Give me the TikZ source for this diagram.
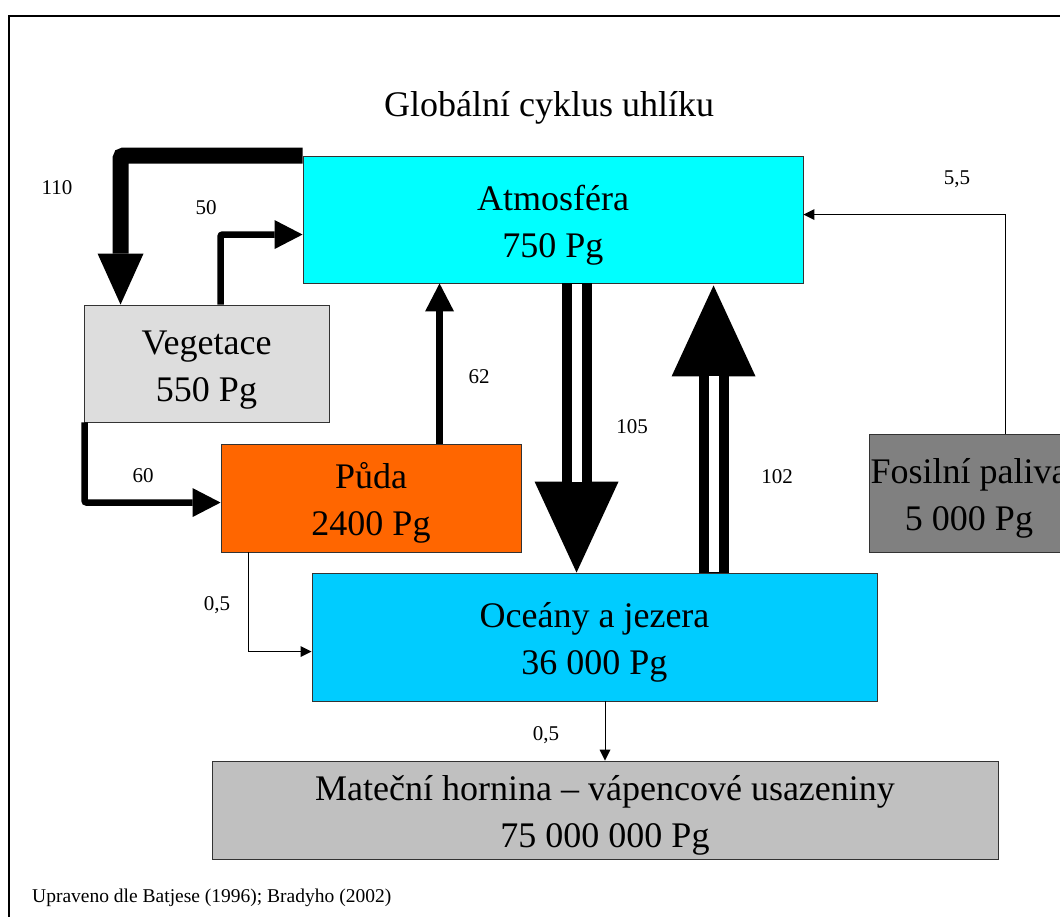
\documentclass[tikz,border=0pt]{standalone}
\usepackage{fontspec}
\setmainfont{Liberation Serif}
\usetikzlibrary{arrows.meta, positioning, calc}

\definecolor{atmocyan}{RGB}{0, 255, 255}
\definecolor{oceanblue}{RGB}{0, 204, 255}
\definecolor{soilorange}{RGB}{255, 102, 0}
\definecolor{vegegray}{RGB}{221, 221, 221}
\definecolor{fossilgray}{RGB}{128, 128, 128}
\definecolor{rockgray}{RGB}{192, 192, 192}

\tikzset{
  pool/.style={draw=black!80, line width=0.9pt, align=center, inner sep=0pt,
    font=\fontsize{36}{47}\selectfont, text height=80pt, text depth=4.6pt},
  flowlbl/.style={anchor=base, inner sep=0pt, font=\fontsize{21}{24}\selectfont},
  flowfat/.style={line width=16pt, rounded corners=3pt,
    -{Triangle[length=51pt, width=46pt, line width=0pt]}},
  flowmid/.style={line width=6.5pt, rounded corners=2pt,
    -{Triangle[length=28pt, width=29pt, line width=0pt]}},
  flowthin/.style={line width=1pt, -{Triangle[length=11pt, width=11pt, line width=0pt]}},
  flowdouble/.style={line width=30pt, -{Triangle[length=91pt, width=84pt, line width=0pt]}},
  flowgap/.style={white, line width=10pt, shorten <=1pt},
}

\begin{document}
\begin{tikzpicture}[x=1pt, y=-1pt]
  \useasboundingbox (0,0) rectangle (1060,916);
  \clip (0,0) rectangle (1060,916);
  % frame, it runs off the right and bottom edge
  \draw[line width=1.5pt] (9,930) -- (9,16) -- (1080,16);

  \node[anchor=base, inner sep=0pt, font=\fontsize{36}{40}\selectfont] (title) at (549,116) {Globální cyklus uhlíku};

  % carbon pools
  \node[pool, fill=atmocyan, minimum width=500pt, minimum height=127pt] (atm) at (553,219.5) {Atmosféra\\750 Pg};
  \node[pool, fill=vegegray, minimum width=245pt, minimum height=117pt] (veg) at (206.5,363.5) {Vegetace\\550 Pg};
  \node[pool, fill=soilorange, minimum width=300pt, minimum height=108pt] (puda) at (371,498) {Půda\\2400 Pg};
  \node[pool, fill=oceanblue, minimum width=565pt, minimum height=128pt] (oce) at (594.5,637) {Oceány a jezera\\36 000 Pg};
  \node[pool, fill=fossilgray, minimum width=200pt, minimum height=118pt] (fos) at (969,493) {Fosilní paliva\\5 000 Pg};
  \node[pool, fill=rockgray, minimum width=786pt, minimum height=98pt] (mat) at (605,810) {Mateční hornina – vápencové usazeniny\\75 000 000 Pg};

  % fluxes
  \draw[flowfat] (atm.north west) -| ($(veg.north west)+(37,0)$);
  \draw[flowmid] ($(veg.north west)+(137,0)$) |- ($(atm.north west)+(0,79)$);
  \draw[flowmid] ($(veg.south west)+(1,0)$) |- ($(puda.north west)+(0,59)$);
  \coordinate (s62) at ($(puda.north west)+(219,0)$);
  \draw[flowmid] (s62) -- (s62 |- atm.south);

  \coordinate (s105) at ($(atm.south west)+(274,0)$);
  \draw[flowdouble] (s105) -- (s105 |- oce.north);
  \draw[flowgap, shorten >=91pt] (s105) -- (s105 |- oce.north);
  \coordinate (s102) at ($(oce.north west)+(402,0)$);
  \draw[flowdouble, shorten >=2pt] (s102) -- (s102 |- atm.south);
  \draw[flowgap, shorten >=93pt] (s102) -- (s102 |- atm.south);

  \coordinate (s55) at ($(fos.north west)+(137,0)$);
  \draw[flowthin] (s55) |- ($(atm.north east)+(0,59)$);
  \draw[flowthin] ($(puda.south west)+(28,0)$) |- ($(oce.north west)+(0,79)$);
  \draw[flowthin] (mat.north |- oce.south) -- (mat.north);

  % flux values
  \node[flowlbl] (f110) at (57,194) {110};
  \node[flowlbl] (f50) at (206,214) {50};
  \node[flowlbl] (f60) at (143,482) {60};
  \node[flowlbl] (f62) at (479,383) {62};
  \node[flowlbl] (f105) at (632,433) {105};
  \node[flowlbl] (f102) at (777,483) {102};
  \node[flowlbl] (f55) at (957,184) {5,5};
  \node[flowlbl] (f05a) at (217,610) {0,5};
  \node[flowlbl] (f05b) at (546,740) {0,5};

  \node[anchor=base west, inner sep=0pt, font=\fontsize{19.5}{22}\selectfont] (source) at (32,902) {Upraveno dle Batjese (1996); Bradyho (2002)};
\end{tikzpicture}
\end{document}
